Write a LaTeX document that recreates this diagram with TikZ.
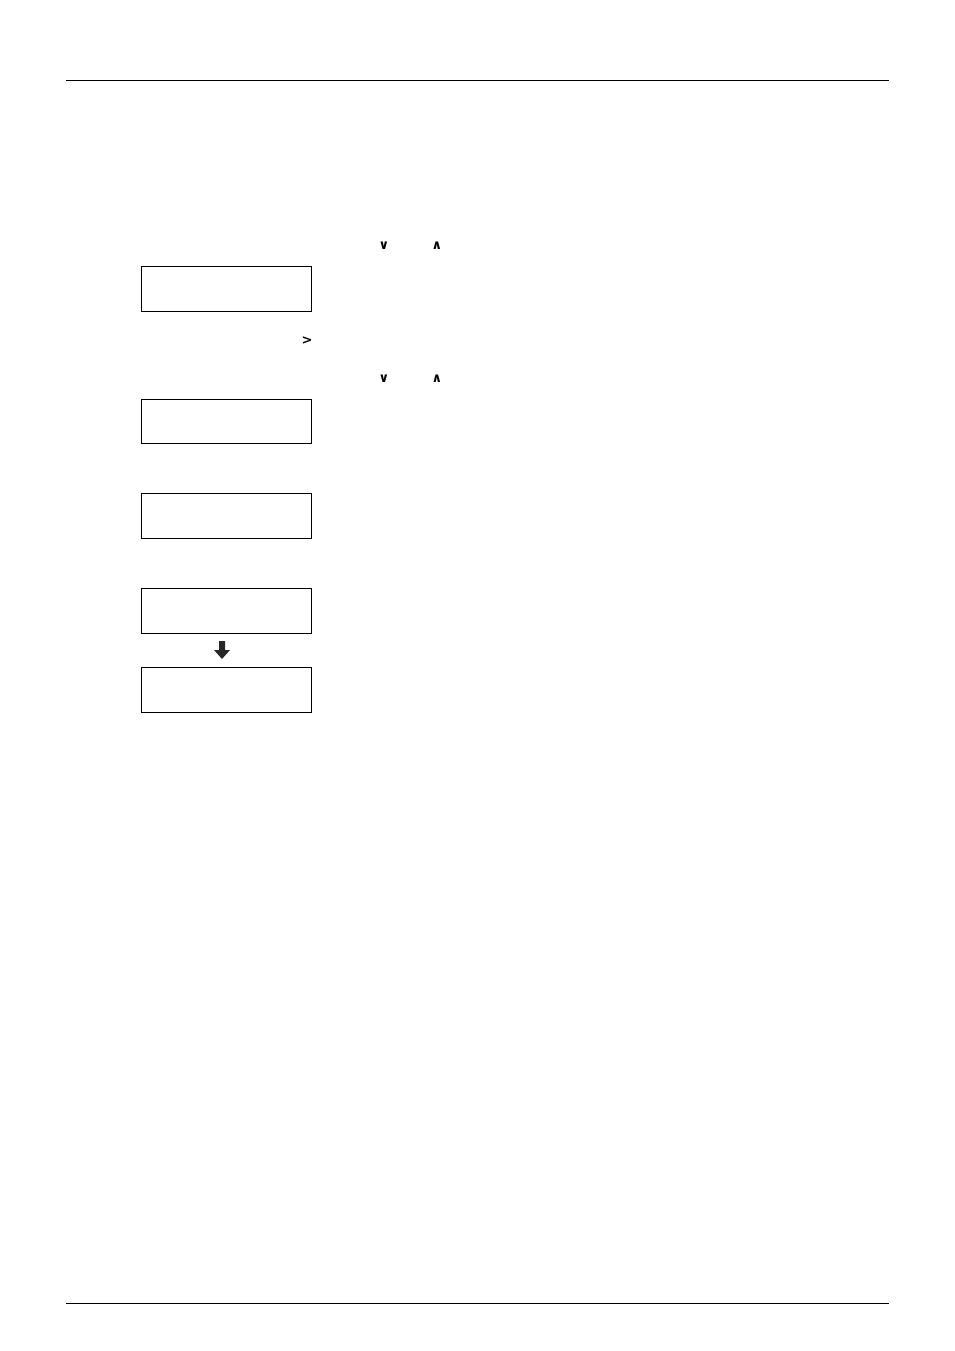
\documentclass[tikz,border=0pt]{standalone}
\usepackage{fontspec}
\newfontfamily\symfont{DejaVu Sans}
\begin{document}
\begin{tikzpicture}[x=1pt,y=-1pt,
  rule/.style={line width=1pt},
  panel/.style={draw,line width=1pt,minimum width=170pt,minimum height=45pt,inner sep=0pt,anchor=north west},
  key/.style={font=\symfont\bfseries\fontsize{13}{13}\selectfont,inner sep=0pt},
  flowarrow/.style={fill=black!85}]
\useasboundingbox (0,0) rectangle (954,1351);
\coordinate (tl) at (66,81); \coordinate (tr) at (889,81);
\coordinate (bl) at (66,1303); \coordinate (br) at (889,1303);
\draw[rule] (tl) -- (tr);
\draw[rule] (bl) -- (br);
\node[panel] (p1) at (141,266) {};
\node[panel,minimum height=44pt] (p2) at (141,399) {};
\node[panel] (p3) at (141,493) {};
\node[panel] (p4) at (141,588) {};
\node[panel] (p5) at (141,667) {};
\node[key] (k1) at (384,246) {∨};
\node[key] (k2) at (437,246) {∧};
\node[key] (k3) at (307,341) {>};
\node[key] (k4) at (384,379) {∨};
\node[key] (k5) at (437,379) {∧};
\fill[flowarrow] (219,641) -- (225,641) -- (225,650) -- (230,650) -- (222,659) -- (214,650) -- (219,650) -- cycle;
\end{tikzpicture}
\end{document}
